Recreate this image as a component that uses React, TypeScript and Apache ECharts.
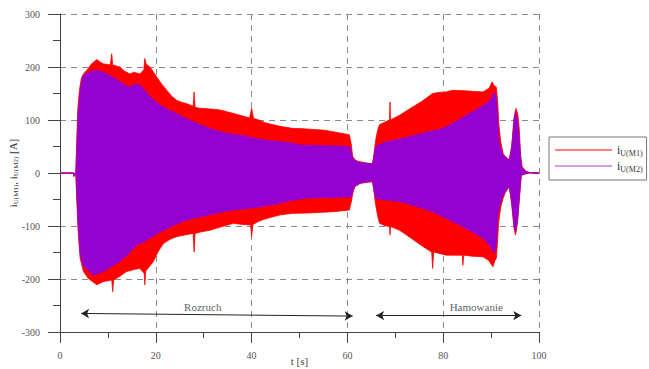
import React, { useEffect, useRef } from 'react';
import * as echarts from 'echarts';

// Envelope of the oscillating phase currents: [t (s), i (A)]
const m1Upper: [number, number][] = [
  [0, 0], [2.8, 0], [2.9, -4], [3.1, 0], [3.3, 0], [3.5, 60], [3.7, 120], [4.0, 150], [4.2, 165], [4.5, 180],
  [4.9, 187], [5.6, 194], [6.5, 205], [7.7, 214], [8.3, 210], [9, 206], [10.5, 204], [10.8, 225], [11.0, 204],
  [12.5, 200], [13.5, 192], [14.6, 187], [15.5, 190], [16.7, 187], [17.5, 195], [17.7, 216], [18.0, 205],
  [18.8, 200], [20.2, 181], [21.2, 168], [22.3, 156], [23.3, 145], [24.4, 137], [25.5, 133], [26.4, 131],
  [27.8, 126], [28.0, 153], [28.2, 124], [29.2, 122], [31, 121], [33.4, 119], [35.5, 114], [37.6, 109],
  [39.6, 104], [40, 122], [40.4, 103], [41.5, 100], [43.1, 94], [46, 88], [48.7, 84], [50, 84], [53, 82],
  [54.9, 81], [57, 78], [60.4, 72], [60.8, 55], [61.1, 31], [61.6, 25], [62.2, 22], [64, 19], [65.3, 17],
  [65.6, 40], [65.9, 62], [66.3, 80], [66.7, 91], [67.8, 96], [68.8, 100], [68.9, 134], [69.0, 100],
  [70.9, 109], [72.3, 117], [73.7, 125], [75.5, 135], [77.8, 150], [79, 152], [80.6, 153], [82, 156],
  [84.8, 155], [86.5, 154], [88.3, 153], [89.6, 160], [90.2, 172], [90.6, 165], [91.1, 162], [91.4, 130],
  [91.6, 94], [92, 60], [92.5, 37], [93.2, 28], [93.8, 25], [94.3, 50], [94.8, 105], [95.2, 122], [95.6, 110],
  [95.9, 81], [96.1, 40], [96.3, 12], [96.8, 6], [97.3, 3], [98, 1], [100, 0],
];
const m1Lower: [number, number][] = [
  [0, 0], [2.8, 0], [2.9, -7], [3.1, 0], [3.3, 0], [3.5, -50], [3.8, -111], [4.2, -161], [4.9, -186],
  [5.9, -199], [7.7, -211], [9, -205], [10.8, -202], [11.0, -224], [11.2, -202], [12.5, -195], [13.9, -186],
  [15.5, -182], [16.7, -180], [17.6, -190], [17.7, -211], [17.9, -185], [19.5, -167], [20.5, -148],
  [21.6, -133], [23, -125], [24.4, -120], [26, -117], [27.8, -114], [28, -149], [28.2, -114], [29.5, -111],
  [31.3, -108], [33.5, -102], [36.2, -95], [38, -97], [39.8, -98], [40, -120], [40.3, -97], [41.5, -91],
  [43.1, -86], [46, -79], [48.7, -76], [50, -76], [53, -75], [57, -73], [60.4, -70], [60.8, -55], [61.2, -35],
  [61.5, -26], [62.5, -20], [65.3, -16], [65.6, -40], [65.9, -60], [66.3, -80], [66.7, -95], [68, -100],
  [68.8, -101], [68.9, -117], [69.0, -101], [70.9, -108], [72.5, -118], [74.4, -130], [76, -140],
  [77.6, -149], [77.8, -180], [78.0, -149], [80.6, -155], [82.5, -155], [84, -155], [84.1, -174], [84.3, -155],
  [86, -157], [88.3, -158], [89.5, -165], [90.4, -177], [90.8, -165], [91.1, -161], [91.4, -120], [91.6, -92],
  [92, -65], [92.5, -48], [93.2, -32], [93.8, -26], [94.3, -60], [94.8, -105], [95.1, -117], [95.5, -95],
  [95.9, -48], [96.3, -4], [97, -2], [98, 0], [100, 0],
];
const m2Upper: [number, number][] = [
  [0, 0], [2.8, 0], [2.9, -5], [3.1, 0], [3.3, 0], [3.5, 50], [3.8, 110], [4.2, 156], [4.7, 180], [5.2, 187],
  [6.5, 192], [7.7, 194], [9, 190], [10.4, 184], [11.5, 178], [12.5, 172], [13.5, 166], [14.6, 162],
  [15.5, 168], [16.7, 166], [17.8, 155], [18.8, 144], [20.9, 128], [22.5, 120], [24.4, 112], [26, 104],
  [27.8, 97], [29.5, 90], [31.3, 84], [33, 79], [34.8, 75], [37, 72], [39, 69], [41, 65], [43.1, 62], [46, 59],
  [48.7, 56], [50, 53], [55, 52], [60.4, 50], [60.8, 40], [61.1, 28], [62.2, 20], [65.2, 17], [65.6, 35],
  [65.9, 50], [68.1, 59], [71, 64], [74.4, 72], [77, 78], [79.9, 84], [82.5, 96], [84.8, 109], [87, 120],
  [89, 131], [90, 140], [90.7, 153], [91.1, 140], [91.4, 100], [91.6, 60], [92.5, 34], [93.8, 25], [94.3, 50],
  [94.8, 100], [95.1, 116], [95.5, 100], [95.9, 62], [96.2, 30], [96.5, 12], [97.3, 3], [98, 1], [100, 0],
];
const m2Lower: [number, number][] = [
  [0, 0], [2.8, 0], [2.9, -6], [3.1, 0], [3.3, 0], [3.5, -40], [3.8, -100], [4.2, -150], [4.8, -175],
  [5.5, -180], [7, -193], [9, -186], [10.5, -178], [12.5, -167], [14, -155], [16, -136], [17.5, -130],
  [18.8, -123], [20.5, -113], [22.3, -105], [24.4, -96], [26.4, -89], [28.5, -84], [31.3, -79], [33.5, -74],
  [36.2, -70], [39, -67], [41.7, -64], [45, -59], [48.7, -51], [52, -47], [57, -46], [60.8, -45], [61.2, -35],
  [61.5, -26], [63, -18], [65.2, -16], [65.6, -35], [65.9, -48], [68, -51], [70.9, -54], [74.4, -63],
  [77.8, -73], [80.5, -85], [83.4, -98], [86, -111], [88.3, -123], [89.8, -138], [90.7, -152], [91.1, -130],
  [91.4, -79], [92.0, -55], [92.5, -42], [93.8, -26], [94.3, -55], [94.8, -100], [95.1, -111], [95.5, -90],
  [95.9, -48], [96.3, -4], [97, -2], [98, 0], [100, 0],
];

const xTicks = { min: 0, max: 100, interval: 20 };
const yTicks = { min: -300, max: 300, interval: 100 };

const annotationTexts = [
  { name: 'Rozruch', value: [29.8, -252] },
  { name: 'Hamowanie', value: [86.9, -253] },
];
const arrows: [[number, number], [number, number]][] = [
  [[4.4, -265], [61.1, -270]],
  [[66.0, -269], [96.3, -269]],
];

const SERIF = 'Liberation Serif';
const RED = '#ff0000';
const PURPLE = '#9400cf';

const legendRich = {
  i: { fontFamily: SERIF, fontSize: 12, lineHeight: 14, color: '#333', verticalAlign: 'middle' },
  s: { fontFamily: SERIF, fontSize: 8, lineHeight: 7, color: '#333', verticalAlign: 'bottom' },
};
const nameRich = {
  i: { fontFamily: SERIF, fontSize: 11, lineHeight: 13, color: '#333', verticalAlign: 'middle' },
  s: { fontFamily: SERIF, fontSize: 7, lineHeight: 6, color: '#333', verticalAlign: 'bottom' },
  t: { fontFamily: SERIF, fontSize: 11, lineHeight: 13, color: '#333', verticalAlign: 'middle' },
};

function envSeries(name: string, data: [number, number][], color: string) {
  return {
    name,
    type: 'line',
    data,
    symbol: 'none',
    showSymbol: false,
    silent: true,
    lineStyle: { color, width: 0.8 },
    itemStyle: { color },
    areaStyle: { color, opacity: 1, origin: 'auto' },
    emphasis: { disabled: true },
  };
}

export default function App() {
  const ref = useRef<HTMLDivElement>(null);
  useEffect(() => {
    const chart = echarts.init(ref.current!, null, { renderer: 'svg' });
    const axisColor = '#444';
    const option: any = {
      animation: false,
      backgroundColor: '#fff',
      textStyle: { fontFamily: SERIF },
      grid: { left: 60, right: 110, top: 14, bottom: 37, containLabel: false, outerBoundsMode: 'none' },
      legend: {
        orient: 'vertical',
        left: 549,
        top: 137,
        padding: [7, 4, 7, 6],
        itemGap: 3,
        itemWidth: 57,
        itemHeight: 2,
        icon: 'rect',
        borderColor: '#777',
        borderWidth: 1,
        backgroundColor: '#fff',
        selectedMode: false,
        data: [
          { name: 'M1', itemStyle: { color: '#ff8080' } },
          { name: 'M2', itemStyle: { color: '#d69be9' } },
        ],
        formatter: (n: string) => (n === 'M1' ? '{i|i}{s|U(M1)}' : '{i|i}{s|U(M2)}'),
        textStyle: { fontFamily: SERIF, rich: legendRich },
      },
      xAxis: {
        type: 'value',
        min: xTicks.min,
        max: xTicks.max,
        interval: xTicks.interval,
        axisLine: { onZero: false, lineStyle: { color: axisColor, width: 1 } },
        axisTick: { show: true, inside: false, length: 11, lineStyle: { color: axisColor } },
        minorTick: { show: true, splitNumber: 2, length: 6, lineStyle: { color: axisColor } },
        splitLine: { show: true, lineStyle: { type: [6, 5], color: '#8a8a8a', width: 1 } },
        axisLabel: { margin: 18, fontFamily: SERIF, fontSize: 10, color: '#555' },
        name: 't [s]',
        nameLocation: 'middle',
        nameGap: 23,
        nameMoveOverlap: false,
        nameTextStyle: { fontFamily: SERIF, fontSize: 11, color: '#444' },
      },
      yAxis: {
        type: 'value',
        min: yTicks.min,
        max: yTicks.max,
        interval: yTicks.interval,
        axisLine: { show: true, onZero: false, lineStyle: { color: axisColor, width: 1 } },
        axisTick: { show: true, inside: false, length: 12, lineStyle: { color: axisColor } },
        minorTick: { show: true, splitNumber: 2, length: 7, lineStyle: { color: axisColor } },
        splitLine: { show: true, lineStyle: { type: [6, 5], color: '#8a8a8a', width: 1 } },
        axisLabel: { margin: 20, fontFamily: SERIF, fontSize: 10, color: '#555' },
        name: '{i|i}{s|U(M1)}{t|, }{i|i}{s|U(M2)}{t| [A]}',
        nameLocation: 'middle',
        nameRotate: 90,
        nameGap: 41,
        nameMoveOverlap: false,
        nameTextStyle: { fontFamily: SERIF, rich: nameRich },
      },
      series: [
        envSeries('M1', m1Upper, RED),
        envSeries('M1', m1Lower, RED),
        envSeries('M2', m2Upper, PURPLE),
        envSeries('M2', m2Lower, PURPLE),
        {
          type: 'scatter',
          silent: true,
          symbolSize: 0,
          data: annotationTexts,
          label: {
            show: true,
            position: 'inside',
            formatter: (p: any) => p.name,
            fontFamily: SERIF,
            fontSize: 11,
            color: '#333',
          },
          markLine: {
            silent: true,
            symbol: ['arrow', 'arrow'],
            symbolSize: [7, 8],
            label: { show: false },
            lineStyle: { color: '#222', width: 1, type: 'solid' },
            emphasis: { disabled: true },
            data: arrows.map(([a, b]) => [{ coord: a }, { coord: b }]),
          },
        },
      ],
    };
    chart.setOption(option);
    return () => chart.dispose();
  }, []);
  return <div ref={ref} style={{ position: 'absolute', left: 0, top: 0, width: 649, height: 369 }} />;
}
